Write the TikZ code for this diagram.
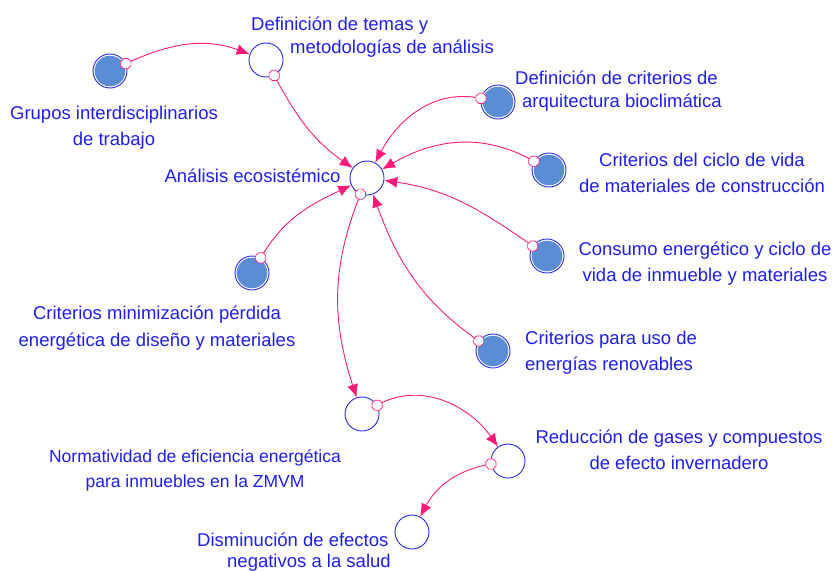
\documentclass[tikz,border=0pt]{standalone}
\usepackage{fontspec}
\setmainfont{Liberation Sans}
\usetikzlibrary{arrows.meta, shapes.geometric}
\definecolor{lblblue}{HTML}{1E1EF0}
\definecolor{ringblue}{HTML}{2626E6}
\definecolor{stockfill}{HTML}{5B8DD6}
\definecolor{linkpink}{HTML}{FF1A7A}

\begin{document}
\begin{tikzpicture}[
    x=1pt, y=1pt,
    var/.style={circle, draw=ringblue, line width=0.9pt, minimum size=34pt, inner sep=0pt, fill=white},
    filledvar/.style={var, path picture={\fill[stockfill] (path picture bounding box.center) circle (15.3pt);}},
    lbl/.style={text=lblblue, font=\fontsize{18.5}{25.5}\selectfont, align=center, inner sep=0pt, anchor=base},
    lblleft/.style={lbl, align=left, anchor=base west},
    link/.style={linkpink, line width=0.9pt, -{Latex[length=13pt, width=11pt]}},
    handle/.style={regular polygon, regular polygon sides=8, draw=linkpink, line width=0.7pt, fill=white, minimum size=11pt, inner sep=0pt}
]

\useasboundingbox (0,0) rectangle (834,-570);

% Variables
\node[filledvar] (grupos)    at (110,-71)  {};
\node[var]       (temas)     at (266,-60)  {};
\node[var]       (analisis)  at (367,-178) {};
\node[filledvar] (arqbio)    at (498,-102) {};
\node[filledvar] (ciclovida) at (549,-170) {};
\node[filledvar] (consumo)   at (547,-256) {};
\node[filledvar] (minper)    at (252,-273) {};
\node[filledvar] (renov)     at (493,-351) {};
\node[var]       (norma)     at (362,-414) {};
\node[var]       (reduc)     at (508,-461) {};
\node[var]       (salud)     at (412,-532) {};

% Labels (anchored at the baseline of the last line)
\node[lbl]     (grupos-l)    at (114,-145)   {Grupos interdisciplinarios\\de trabajo};
\node[lblleft, font=\fontsize{18.5}{23}\selectfont]
               (temas-l)     at (251,-53)    {Definición de temas y\\\hspace*{39pt}metodologías de análisis};
\node[lblleft, font=\fontsize{18.5}{23}\selectfont]
               (arqbio-l)    at (515,-107)   {Definición de criterios de\\\hspace*{7pt}arquitectura bioclimática};
\node[lbl]     (analisis-l)  at (252.5,-182.3) {Análisis ecosistémico};
\node[lbl]     (ciclovida-l) at (702,-192)   {Criterios del ciclo de vida\\de materiales de construcción};
\node[lbl]     (consumo-l)   at (705,-281)   {Consumo energético y ciclo de\\vida de inmueble y materiales};
\node[lbl, font=\fontsize{18.5}{27}\selectfont]
               (minper-l)    at (157,-346)   {Criterios minimización pérdida\\energética de diseño y materiales};
\node[lblleft] (renov-l)     at (525,-370)   {Criterios para uso de\\energías renovables};
\node[lbl, font=\fontsize{17.5}{25}\selectfont]
               (norma-l)     at (195,-487)   {Normatividad de eficiencia energética\\para inmuebles en la ZMVM};
\node[lbl]     (reduc-l)     at (679,-469)   {Reducción de gases y compuestos\\de efecto invernadero};
\node[lblleft, font=\fontsize{18.5}{21}\selectfont]
               (salud-l)     at (197,-567)   {Disminución de efectos\\\hspace*{30pt}negativos a la salud};

% Links
\draw[link] (grupos)    to[out=25, in=160]   node[pos=0, handle] {} (temas);
\draw[link] (temas)     to[out=-62, in=145]  node[pos=0, handle] {} (analisis);
\draw[link] (arqbio)    to[out=168, in=62]   node[pos=0, handle] {} (analisis);
\draw[link] (ciclovida) to[out=150, in=30]   node[pos=0, handle] {} (analisis);
\draw[link] (consumo)   to[out=145, in=-8]   node[pos=0, handle] {} (analisis);
\draw[link] (minper)    to[out=60, in=205]   node[pos=0, handle] {} (analisis);
\draw[link] (renov)     to[out=145, in=-70]  node[pos=0, handle] {} (analisis);
\draw[link] (analisis)  to[out=-112, in=108] node[pos=0, handle] {} (norma);
\draw[link] (norma)     to[out=30, in=125]   node[pos=0, handle] {} (reduc);
\draw[link] (reduc)     to[out=190, in=62]   node[pos=0, handle] {} (salud);

\end{tikzpicture}
\end{document}
